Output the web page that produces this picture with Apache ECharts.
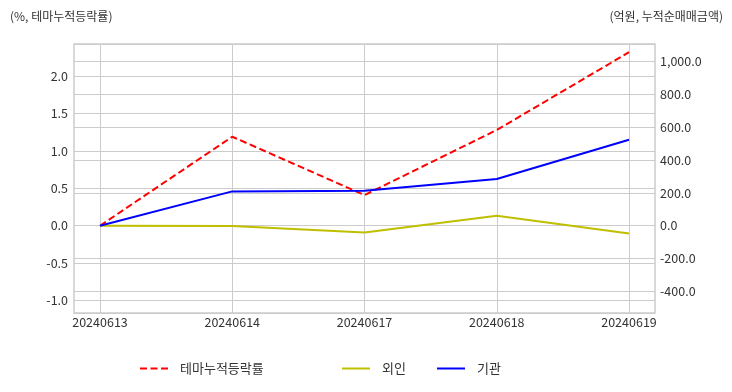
<!DOCTYPE html>
<html><head><meta charset="utf-8">
<script src="https://cdn.jsdelivr.net/npm/echarts@6/dist/echarts.min.js"></script>
<style>html,body{margin:0;padding:0;background:#fff}#c{width:732px;height:392px}</style>
</head><body><div id="c"></div>
<script>
var categories = ['20240613','20240614','20240617','20240618','20240619'];
var themeRate = [0.0, 1.19, 0.41, 1.28, 2.32];
var foreign = [0, -2, -41, 61, -47];
var institution = [0, 209, 213, 284, 524];
var leftTitle = '(%, 테마누적등락률)';
var rightTitle = '(억원, 누적순매매금액)';
var seriesNames = ['테마누적등락률', '외인', '기관'];
var leftRange = [-1.167, 2.43];
var rightRange = [-532, 1107];

var FONT = '"Noto Sans CJK KR", "Noto Sans", sans-serif';
var txt = {fontFamily: FONT, fontSize: 12.5, color: '#333'};
var chart = echarts.init(document.getElementById('c'));
function fmtRight(v){
  var s = Math.abs(v).toFixed(1);
  var parts = s.split('.');
  parts[0] = parts[0].replace(/\B(?=(\d{3})+(?!\d))/g, ',');
  return (v < 0 ? '-' : '') + parts.join('.');
}
var legendBase = {
  orient: 'horizontal', top: 362, itemWidth: 28, itemHeight: 14, padding: 0,
  itemStyle: {opacity: 0, borderWidth: 0},
  textStyle: {fontFamily: FONT, fontSize: 13, color: '#333', padding: [0,0,0,7]}
};
chart.setOption({
  animation: false,
  textStyle: {fontFamily: FONT},
  title: [
    {text: leftTitle, left: 10, top: 10, padding: 0, textStyle: {fontFamily: FONT, fontSize: 12, fontWeight: 'normal', color: '#333'}},
    {text: rightTitle, right: 9, top: 10, padding: 0, textStyle: {fontFamily: FONT, fontSize: 12, fontWeight: 'normal', color: '#333'}}
  ],
  legend: [
    Object.assign({}, legendBase, {left: 139, data: [seriesNames[0]]}),
    Object.assign({}, legendBase, {left: 341, data: [seriesNames[1]]}),
    Object.assign({}, legendBase, {left: 436, data: [seriesNames[2]]})
  ],
  grid: [
    {left: 74, right: 77, top: 44, bottom: 79, show: true, borderColor: '#cccccc', borderWidth: 1.5, backgroundColor: 'transparent'},
    {left: 100, right: 103, top: 44, bottom: 79}
  ],
  xAxis: [
    {gridIndex: 1, type: 'category', data: categories, boundaryGap: false,
     axisLine: {show: false}, axisTick: {show: false},
     axisLabel: Object.assign({margin: 3}, txt),
     splitLine: {show: true, lineStyle: {color: '#cccccc', width: 1}}},
    {gridIndex: 0, type: 'value', show: false}
  ],
  yAxis: [
    {gridIndex: 0, type: 'value', position: 'left', min: leftRange[0], max: leftRange[1], splitNumber: 7,
     axisLine: {show: false}, axisTick: {show: false},
     axisLabel: Object.assign({margin: 6, showMinLabel: false, showMaxLabel: false, formatter: function(v){return v.toFixed(1);}}, txt),
     splitLine: {show: true, lineStyle: {color: '#cccccc', width: 1}}},
    {gridIndex: 0, type: 'value', position: 'right', min: rightRange[0], max: rightRange[1], splitNumber: 8,
     axisLine: {show: false}, axisTick: {show: false},
     axisLabel: Object.assign({margin: 5, showMinLabel: false, showMaxLabel: false, formatter: fmtRight}, txt),
     splitLine: {show: true, lineStyle: {color: '#cccccc', width: 1}}},
    {gridIndex: 1, type: 'value', min: leftRange[0], max: leftRange[1], show: false},
    {gridIndex: 1, type: 'value', min: rightRange[0], max: rightRange[1], show: false}
  ],
  series: [
    {name: seriesNames[0], type: 'line', xAxisIndex: 0, yAxisIndex: 2, data: themeRate, symbol: 'none',
     lineStyle: {color: '#ff0000', width: 2, type: [7, 3.5]}, itemStyle: {color: '#ff0000'}, z: 3},
    {name: seriesNames[1], type: 'line', xAxisIndex: 0, yAxisIndex: 3, data: foreign, symbol: 'none',
     lineStyle: {color: '#bfbf00', width: 2}, itemStyle: {color: '#bfbf00'}},
    {name: seriesNames[2], type: 'line', xAxisIndex: 0, yAxisIndex: 3, data: institution, symbol: 'none',
     lineStyle: {color: '#0000ff', width: 2}, itemStyle: {color: '#0000ff'}}
  ]
});
</script></body></html>
